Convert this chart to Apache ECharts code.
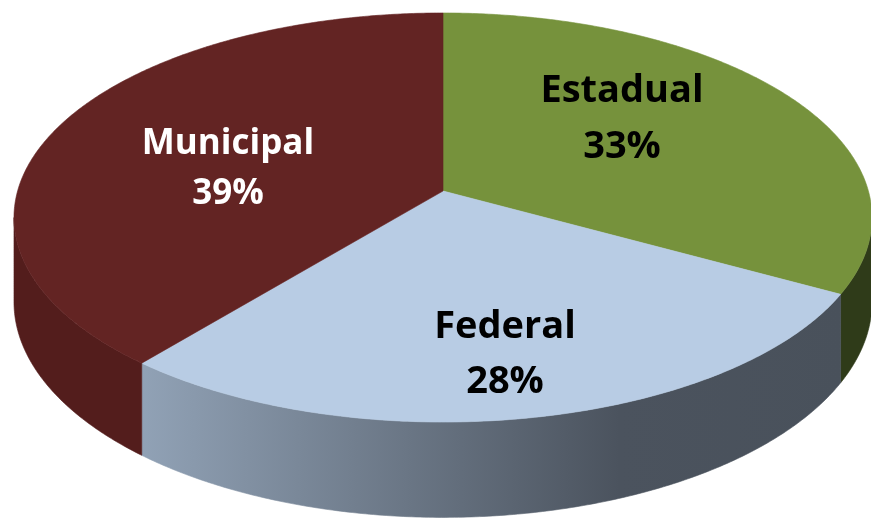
<!DOCTYPE html>
<html>
<head>
<meta charset="utf-8">
<script src="https://cdn.jsdelivr.net/npm/echarts@6/dist/echarts.min.js"></script>
<style>
  html, body { margin: 0; padding: 0; background: #ffffff; }
  #chart { width: 871px; height: 518px; }
</style>
</head>
<body>
<div id="chart"></div>
<script>
"use strict";

// Data (clockwise from 12 o'clock)
const categories = ["Estadual", "Federal", "Municipal"];
const shares = [33, 28, 39];

// Look of each slice: top face, side wall, label colour
const topColors = ["#76923c", "#b8cce4", "#632423"];
const wallColors = [
  "#2f3b19",
  new echarts.graphic.LinearGradient(140, 0, 845, 0, [
    { offset: 0, color: "#91a2b6" },
    { offset: 0.68, color: "#4b535e" },
    { offset: 1, color: "#49515b" },
  ], true),
  "#531d1c",
];
const labelColors = ["#000000", "#000000", "#ffffff"];
const labelSizes = [38, 38, 35];
// label centres in px: [x, name line y, percent line y]
const labelPos = [[622, 91, 147], [505, 327, 382], [228, 144, 194]];

// Tilted-disc projection (homography fitted to the reference ellipse)
const CX = 443, CY = 191;      // projected pie centre
const RX = 425.4, RY = 201.1;  // scale of the rim
const K = 0.1296;              // perspective foreshortening
const DEPTH = 83;              // wall thickness at the centre depth

function rad(d) { return d * Math.PI / 180; }

function rim(aDeg) {
  const x = Math.cos(rad(aDeg)), y = Math.sin(rad(aDeg));
  const d = 1 + K * y;
  return [CX + RX * x / d, CY - RY * y / d];
}

function wallDrop(aDeg) {
  return DEPTH / (1 + K * Math.sin(rad(aDeg)));
}

// Front part of the rim whose wall faces the viewer
const EDGE = Math.asin(K) * 180 / Math.PI;
const FRONT_LO = -180 + EDGE, FRONT_HI = -EDGE;

// Slice angles (degrees, maths convention, going clockwise from 90)
const total = shares.reduce((a, b) => a + b, 0);
const startAngles = [], endAngles = [];
let acc = 90;
shares.forEach((v) => {
  startAngles.push(acc);
  acc -= v / total * 360;
  endAngles.push(acc);
});

function arc(hi, lo) {
  const pts = [];
  const n = Math.max(2, Math.ceil((hi - lo) / 0.5));
  for (let i = 0; i <= n; i++) pts.push(hi - (hi - lo) * i / n);
  return pts;
}

function renderSlice(params, api) {
  const i = params.dataIndex;
  const s = startAngles[i], e = endAngles[i];
  const children = [];

  // side wall (only the front half shows)
  const hi = Math.min(s, FRONT_HI), lo = Math.max(e, FRONT_LO);
  if (hi > lo) {
    const angs = arc(hi, lo);
    const top = angs.map(rim);
    const bottom = angs.slice().reverse().map((a) => {
      const p = rim(a);
      return [p[0], p[1] + wallDrop(a)];
    });
    children.push({
      type: "polygon",
      shape: { points: top.concat(bottom) },
      style: { fill: wallColors[i], stroke: wallColors[i], lineWidth: 0.6 },
    });
  }

  // top face
  const face = [[CX, CY]].concat(arc(s, e).map(rim));
  children.push({
    type: "polygon",
    shape: { points: face },
    style: { fill: topColors[i], stroke: topColors[i], lineWidth: 0.6 },
  });

  // label: name + percent
  const pct = Math.round(api.value(0) / total * 100) + "%";
  const font = "bold " + labelSizes[i] + "px 'Open Sans', Lato, sans-serif";
  const lp = labelPos[i];
  [[categories[i], lp[1]], [pct, lp[2]]].forEach(([txt, y]) => {
    children.push({
      type: "text",
      x: lp[0],
      y: y,
      z2: 10,
      style: {
        text: txt,
        fill: labelColors[i],
        font: font,
        align: "center",
        verticalAlign: "middle",
      },
    });
  });

  return { type: "group", children: children };
}

const chart = echarts.init(document.getElementById("chart"), null, { renderer: "canvas" });
chart.setOption({
  backgroundColor: "#ffffff",
  animation: false,
  series: [{
    type: "custom",
    coordinateSystem: "none",
    renderItem: renderSlice,
    data: shares.map((v, i) => ({ name: categories[i], value: [v] })),
    silent: true,
  }],
});
</script>
</body>
</html>
